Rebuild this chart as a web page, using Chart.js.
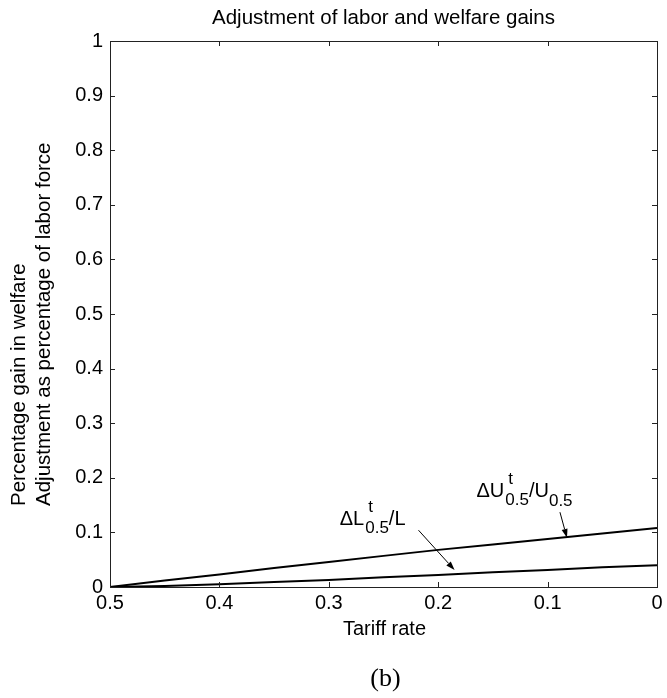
<!DOCTYPE html>
<html>
<head>
<meta charset="utf-8">
<script src="https://cdn.jsdelivr.net/npm/chart.js@4.4.1/dist/chart.umd.min.js"></script>
<style>
    html, body { margin: 0; padding: 0; background: #fff; }
    #wrap { width: 667px; height: 698px; position: relative; }
</style>
</head>
<body>
<div id="wrap"><canvas id="chart"></canvas></div>
<script>
// tariff rate (x)
const tariff = [0.5, 0.45, 0.4, 0.35, 0.3, 0.25, 0.2, 0.15, 0.1, 0.05, 0];
// ΔU / U  (welfare gain)
const welfareGain = [0, 0.012, 0.023, 0.035, 0.046, 0.057, 0.068, 0.078, 0.088, 0.098, 0.108];
// ΔL / L  (labor adjustment)
const laborAdj = [0, 0.002, 0.005, 0.009, 0.013, 0.018, 0.022, 0.027, 0.031, 0.036, 0.040];

const xTicks = [0.5, 0.4, 0.3, 0.2, 0.1, 0];
const yTicks = [0, 0.1, 0.2, 0.3, 0.4, 0.5, 0.6, 0.7, 0.8, 0.9, 1];

const SANS = "'Liberation Sans', Arial, Helvetica, sans-serif";
const SERIF = "'Liberation Serif', 'Times New Roman', serif";

const toPoints = ys => tariff.map((x, i) => ({ x: x, y: ys[i] }));

// annotation anchors in data units
const notes = {
    labor: { text: [0.29, 0.114], from: [0.218, 0.104], to: [0.185, 0.031] },
    welfare: { text: [0.165, 0.165], from: [0.0887, 0.137], to: [0.0823, 0.090] }
};

function drawArrow(ctx, x1, y1, x2, y2) {
    const a = Math.atan2(y2 - y1, x2 - x1);
    const len = 9, half = 3;
    ctx.beginPath();
    ctx.moveTo(x1, y1);
    ctx.lineTo(x2 - len * Math.cos(a), y2 - len * Math.sin(a));
    ctx.stroke();
    ctx.beginPath();
    ctx.moveTo(x2, y2);
    ctx.lineTo(x2 - len * Math.cos(a) + half * Math.sin(a), y2 - len * Math.sin(a) - half * Math.cos(a));
    ctx.lineTo(x2 - len * Math.cos(a) - half * Math.sin(a), y2 - len * Math.sin(a) + half * Math.cos(a));
    ctx.closePath();
    ctx.fill();
}

// Δ X ^t _0.5 / Y (_0.5)
function drawDelta(ctx, x, y, base, tail, tailSub) {
    ctx.textAlign = 'left';
    ctx.textBaseline = 'alphabetic';
    ctx.font = '20px ' + SANS;
    ctx.fillText('\u0394' + base, x, y);
    let cx = x + ctx.measureText('\u0394' + base).width + 1;
    ctx.font = '17px ' + SANS;
    ctx.fillText('t', cx + 3, y - 13);
    ctx.fillText('0.5', cx, y + 8);
    cx += ctx.measureText('0.5').width;
    ctx.font = '20px ' + SANS;
    ctx.fillText('/' + tail, cx, y);
    cx += ctx.measureText('/' + tail).width;
    if (tailSub) {
        ctx.font = '17px ' + SANS;
        ctx.fillText(tailSub, cx, y + 9);
    }
}

const decorPlugin = {
    id: 'decor',
    afterDraw(chart) {
        const ctx = chart.ctx;
        const area = chart.chartArea;
        const xs = chart.scales.x, ys = chart.scales.y;
        ctx.save();

        // frame + inward ticks
        ctx.strokeStyle = '#222';
        ctx.lineWidth = 1;
        ctx.strokeRect(area.left + 0.5, area.top + 0.5, area.right - area.left, area.bottom - area.top);
        ctx.beginPath();
        xTicks.forEach(v => {
            const px = Math.round(xs.getPixelForValue(v)) + 0.5;
            ctx.moveTo(px, area.bottom); ctx.lineTo(px, area.bottom - 5);
            ctx.moveTo(px, area.top); ctx.lineTo(px, area.top + 5);
        });
        yTicks.forEach(v => {
            const py = Math.round(ys.getPixelForValue(v)) + 0.5;
            ctx.moveTo(area.left, py); ctx.lineTo(area.left + 5, py);
            ctx.moveTo(area.right, py); ctx.lineTo(area.right - 5, py);
        });
        ctx.stroke();

        ctx.fillStyle = '#000';
        ctx.strokeStyle = '#000';

        // title and axis labels
        const cx = (area.left + area.right) / 2;
        ctx.textAlign = 'center';
        ctx.textBaseline = 'alphabetic';
        ctx.font = '20.5px ' + SANS;
        ctx.fillText('Adjustment of labor and welfare gains', cx, 24);
        ctx.font = '20px ' + SANS;
        ctx.fillText('Tariff rate', cx + 1, 635);
        ctx.font = '26px ' + SERIF;
        ctx.fillText('(b)', cx + 2, 686);

        ctx.save();
        ctx.translate(25, 506);
        ctx.rotate(-Math.PI / 2);
        ctx.textAlign = 'left';
        ctx.font = '20.5px ' + SANS;
        ctx.fillText('Percentage gain in welfare', 0, 0);
        ctx.fillText('Adjustment as percentage of labor force', 0, 25);
        ctx.restore();

        // curve annotations
        const P = p => [xs.getPixelForValue(p[0]), ys.getPixelForValue(p[1])];
        ctx.lineWidth = 1;
        let t = P(notes.labor.text);
        drawDelta(ctx, t[0], t[1], 'L', 'L', null);
        let a = P(notes.labor.from), b = P(notes.labor.to);
        drawArrow(ctx, a[0], a[1], b[0], b[1]);

        t = P(notes.welfare.text);
        drawDelta(ctx, t[0], t[1], 'U', 'U', '0.5');
        a = P(notes.welfare.from); b = P(notes.welfare.to);
        drawArrow(ctx, a[0], a[1], b[0], b[1]);

        ctx.restore();
    }
};

new Chart(document.getElementById('chart'), {
    type: 'line',
    data: {
        datasets: [{
            label: 'welfare',
            data: toPoints(welfareGain),
            borderColor: '#000',
            borderWidth: 2,
            pointRadius: 0,
            tension: 0
        }, {
            label: 'labor',
            data: toPoints(laborAdj),
            borderColor: '#000',
            borderWidth: 2,
            pointRadius: 0,
            tension: 0
        }]
    },
    options: {
        responsive: true,
        maintainAspectRatio: false,
        animation: false,
        devicePixelRatio: 1,
        layout: { padding: { left: 0, right: 10, top: 41, bottom: 0 } },
        plugins: {
            legend: { display: false },
            tooltip: { enabled: false }
        },
        scales: {
            x: {
                type: 'linear',
                reverse: true,
                min: 0,
                max: 0.5,
                afterBuildTicks: s => { s.ticks = xTicks.map(v => ({ value: v })); },
                afterFit: s => { s.height = 111; },
                grid: { display: false, drawTicks: false, tickLength: 0 },
                border: { display: false },
                ticks: {
                    color: '#000',
                    padding: 4,
                    maxRotation: 0,
                    font: { family: SANS, size: 20 },
                    callback: v => String(v)
                }
            },
            y: {
                type: 'linear',
                min: 0,
                max: 1,
                afterBuildTicks: s => { s.ticks = yTicks.map(v => ({ value: v })); },
                afterFit: s => { s.width = 110; },
                grid: { display: false, drawTicks: false, tickLength: 0 },
                border: { display: false },
                ticks: {
                    color: '#000',
                    padding: 7,
                    font: { family: SANS, size: 20 },
                    callback: v => String(v)
                }
            }
        }
    },
    plugins: [decorPlugin]
});
</script>
</body>
</html>
